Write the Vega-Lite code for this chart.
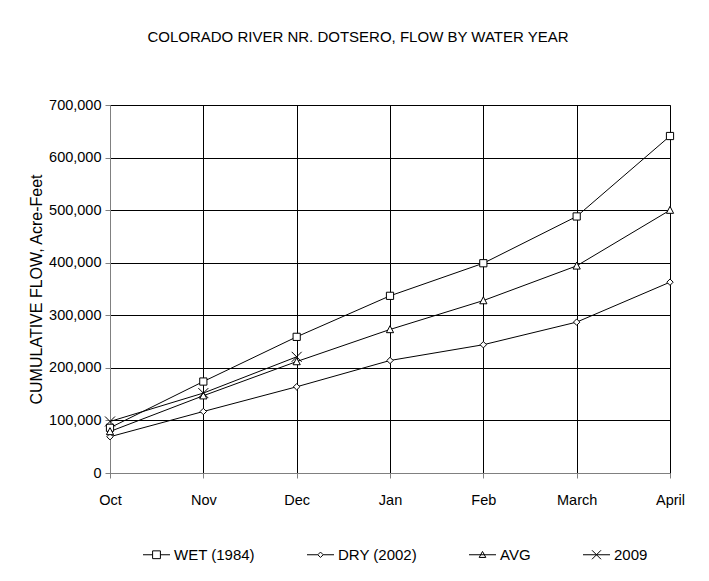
{
  "$schema": "https://vega.github.io/schema/vega-lite/v6.json",
  "width": 560,
  "height": 368,
  "autosize": "none",
  "padding": {"left": 110, "top": 105, "right": 39, "bottom": 108},
  "background": "white",
  "title": {
    "text": "COLORADO RIVER NR. DOTSERO, FLOW BY WATER YEAR",
    "font": "Liberation Sans",
    "fontSize": 15,
    "fontWeight": "normal",
    "color": "black",
    "anchor": "middle",
    "dx": -32,
    "offset": 52
  },
  "data": {
    "values": [
      {"month": "Oct", "series": "WET (1984)", "flow": 86000},
      {"month": "Nov", "series": "WET (1984)", "flow": 174000},
      {"month": "Dec", "series": "WET (1984)", "flow": 259000},
      {"month": "Jan", "series": "WET (1984)", "flow": 337000},
      {"month": "Feb", "series": "WET (1984)", "flow": 399000},
      {"month": "March", "series": "WET (1984)", "flow": 488000},
      {"month": "April", "series": "WET (1984)", "flow": 641000},
      {"month": "Oct", "series": "DRY (2002)", "flow": 69000},
      {"month": "Nov", "series": "DRY (2002)", "flow": 117000},
      {"month": "Dec", "series": "DRY (2002)", "flow": 164000},
      {"month": "Jan", "series": "DRY (2002)", "flow": 214000},
      {"month": "Feb", "series": "DRY (2002)", "flow": 244000},
      {"month": "March", "series": "DRY (2002)", "flow": 287000},
      {"month": "April", "series": "DRY (2002)", "flow": 363000},
      {"month": "Oct", "series": "AVG", "flow": 79000},
      {"month": "Nov", "series": "AVG", "flow": 147000},
      {"month": "Dec", "series": "AVG", "flow": 212000},
      {"month": "Jan", "series": "AVG", "flow": 273000},
      {"month": "Feb", "series": "AVG", "flow": 328000},
      {"month": "March", "series": "AVG", "flow": 394000},
      {"month": "April", "series": "AVG", "flow": 500000},
      {"month": "Oct", "series": "2009", "flow": 98000},
      {"month": "Nov", "series": "2009", "flow": 152000},
      {"month": "Dec", "series": "2009", "flow": 221000}
    ]
  },
  "encoding": {
    "x": {
      "field": "month",
      "type": "ordinal",
      "sort": ["Oct", "Nov", "Dec", "Jan", "Feb", "March", "April"],
      "scale": {"type": "point", "padding": 0},
      "axis": {
        "title": null,
        "labelAngle": 0,
        "grid": true,
        "gridColor": "black",
        "gridOpacity": 1,
        "domainColor": "#808080",
        "tickColor": "#808080",
        "tickSize": 5,
        "labelPadding": 15,
        "labelFont": "Liberation Sans",
        "labelFontSize": 14.5,
        "labelColor": "black"
      }
    },
    "y": {
      "field": "flow",
      "type": "quantitative",
      "scale": {"domain": [0, 700000], "nice": false},
      "axis": {
        "title": "CUMULATIVE FLOW, Acre-Feet",
        "titleFont": "Liberation Sans",
        "titleFontSize": 16,
        "titleFontWeight": "normal",
        "titleColor": "black",
        "titlePadding": 4,
        "values": [0, 100000, 200000, 300000, 400000, 500000, 600000, 700000],
        "format": ",d",
        "grid": true,
        "gridColor": "black",
        "gridOpacity": 1,
        "domainColor": "#808080",
        "tickColor": "#808080",
        "tickSize": 5,
        "labelPadding": 4,
        "labelFont": "Liberation Sans",
        "labelFontSize": 14.5,
        "labelColor": "black"
      }
    }
  },
  "layer": [
    {
      "mark": {"type": "line", "color": "black", "strokeWidth": 1},
      "encoding": {"detail": {"field": "series", "type": "nominal"}}
    },
    {
      "mark": {"type": "point", "filled": true, "fill": "white", "stroke": "black", "strokeWidth": 1, "opacity": 1, "size": 64},
      "encoding": {
        "shape": {
          "field": "series",
          "type": "nominal",
          "scale": {
            "domain": ["WET (1984)", "DRY (2002)", "AVG", "2009"],
            "range": [
              "M-0.9,-0.9H0.9V0.9H-0.9Z",
              "M0,-0.8L0.8,0L0,0.8L-0.8,0Z",
              "M0,-0.95L0.9,0.8H-0.9Z",
              "M-1.25,-1.25L1.25,1.25M-1.25,1.25L1.25,-1.25"
            ]
          },
          "legend": null
        }
      }
    },
    {
      "mark": {"type": "point", "filled": false, "opacity": 0, "size": 64},
      "encoding": {
        "shape": {
          "field": "series",
          "type": "nominal",
          "scale": {
            "domain": ["WET (1984)", "DRY (2002)", "AVG", "2009"],
            "range": [
              "M-2.25,0H-0.65M0.65,0H2.25M-0.65,-0.65H0.65V0.65H-0.65Z",
              "M-2.25,0H-0.45M0.45,0H2.25M0,-0.45L0.45,0L0,0.45L-0.45,0Z",
              "M-2.25,0H2.25M0,-0.55L0.55,0.45H-0.55Z",
              "M-2.25,0H2.25M-0.75,-0.75L0.75,0.75M-0.75,0.75L0.75,-0.75"
            ]
          },
          "legend": {
            "title": null,
            "orient": "none",
            "direction": "horizontal",
            "legendX": 39,
            "legendY": 442,
            "symbolSize": 144,
            "symbolOpacity": 1,
            "symbolStrokeColor": "black",
            "symbolFillColor": "white",
            "symbolStrokeWidth": 1,
            "labelFont": "Liberation Sans",
            "labelFontSize": 15,
            "labelColor": "black",
            "labelOffset": 10,
            "columnPadding": 50
          }
        }
      }
    }
  ],
  "resolve": {"scale": {"shape": "independent"}, "legend": {"shape": "independent"}},
  "config": {
    "view": {"stroke": "#808080", "strokeWidth": 1},
    "axis": {"ticks": true}
  }
}
